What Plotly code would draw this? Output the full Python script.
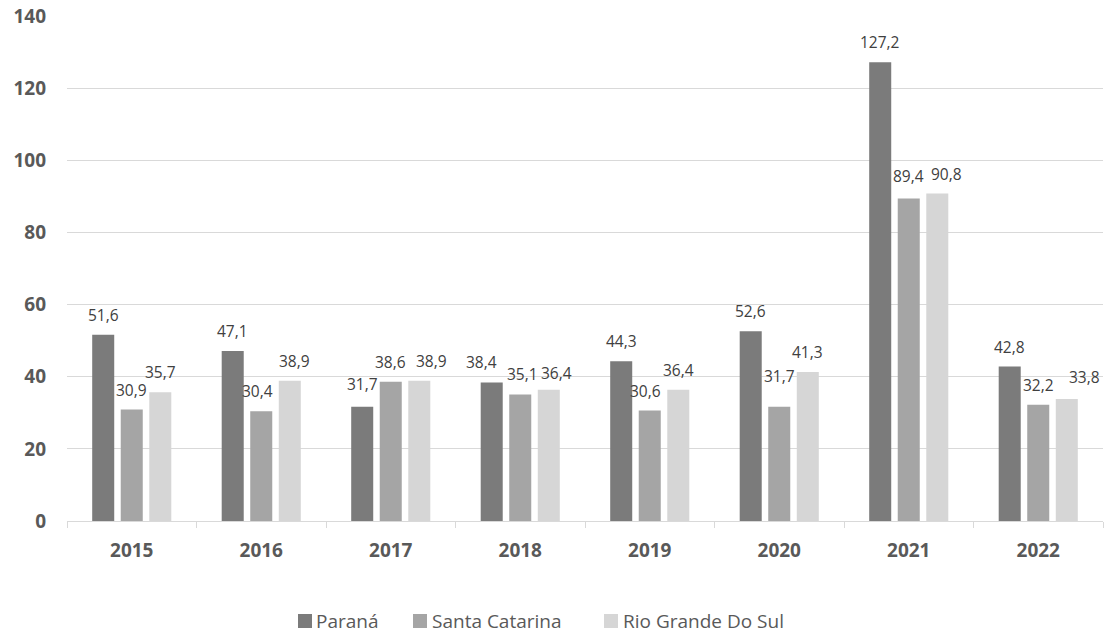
import plotly.graph_objects as go

# Values per state, 2015-2022
years = ["2015", "2016", "2017", "2018", "2019", "2020", "2021", "2022"]
parana = [51.6, 47.1, 31.7, 38.4, 44.3, 52.6, 127.2, 42.8]
santa_catarina = [30.9, 30.4, 38.6, 35.1, 30.6, 31.7, 89.4, 32.2]
rio_grande_do_sul = [35.7, 38.9, 38.9, 36.4, 36.4, 41.3, 90.8, 33.8]

series = [
    ("Paraná", parana, "#7b7b7b"),
    ("Santa Catarina", santa_catarina, "#a5a5a5"),
    ("Rio Grande Do Sul", rio_grande_do_sul, "#d6d6d6"),
]

FONT = "Open Sans"
W, H = 1105, 636
M_L, M_R, M_T, M_B = 67, 2, 16, 115
BARGAP, BARGROUPGAP = 0.339, 0.228
PLOT_W = W - M_L - M_R
PLOT_H = H - M_T - M_B

# small hand nudges (px) for value labels that would otherwise collide
label_nudge = {
    (1, "2016"): (-4, 0), (2, "2016"): (5, 0),
    (0, "2017"): (0, 3), (2, "2017"): (12, 0),
    (0, "2018"): (-10, 0), (1, "2018"): (2, 0), (2, "2018"): (8, -3),
    (1, "2019"): (-4, 0),
    (1, "2020"): (0, 11),
    (1, "2021"): (0, 3), (2, "2021"): (9, -1),
    (2, "2022"): (18, 2),
}

# legend entries laid out below the axis: (swatch left px, text left px)
legend_slots = [(298, 316), (413, 432), (604, 623)]
LEGEND_CY = 621
SWATCH = 14


def fmt(v):
    return f"{v:.1f}".replace(".", ",")


def px_x(px):
    return (px - M_L) / PLOT_W


def px_y(py):
    return (H - M_B - py) / PLOT_H


fig = go.Figure()
for name, vals, color in series:
    fig.add_trace(go.Bar(
        x=years, y=vals, name=name,
        marker=dict(color=color, line=dict(width=0)),
        hoverinfo="x+y+name",
    ))

cat_px = PLOT_W / len(years)
slot_px = (1 - BARGAP) * cat_px / len(series)

annotations = []
shapes = []
for i, (name, vals, color) in enumerate(series):
    for k, (yr, v) in enumerate(zip(years, vals)):
        dx, dy = label_nudge.get((i, yr), (0, 0))
        annotations.append(dict(
            x=k, y=v, xref="x", yref="y",
            text=fmt(v), showarrow=False,
            xshift=(i - 1) * slot_px + dx, yshift=20 + dy,
            yanchor="middle", xanchor="center",
            font=dict(family=FONT, size=15.5, color="#404040"),
        ))
    sw_left, txt_left = legend_slots[i]
    shapes.append(dict(
        type="rect", xref="paper", yref="paper",
        x0=px_x(sw_left), x1=px_x(sw_left + SWATCH),
        y0=px_y(LEGEND_CY + SWATCH / 2), y1=px_y(LEGEND_CY - SWATCH / 2),
        fillcolor=color, line=dict(width=0),
    ))
    annotations.append(dict(
        x=px_x(txt_left - 2), y=px_y(LEGEND_CY), xref="paper", yref="paper",
        text=name, showarrow=False, xanchor="left", yanchor="middle",
        font=dict(family=FONT, size=19, color="#595959"),
    ))

fig.update_layout(
    width=W, height=H,
    margin=dict(l=M_L, r=M_R, t=M_T, b=M_B, pad=0, autoexpand=False),
    paper_bgcolor="white", plot_bgcolor="white",
    barmode="group", bargap=BARGAP, bargroupgap=BARGROUPGAP,
    annotations=annotations, shapes=shapes,
    showlegend=False,
    font=dict(family=FONT),
)

fig.update_xaxes(
    type="category", range=[-0.5, len(years) - 0.5],
    showline=True, linecolor="#d9d9d9", linewidth=1,
    ticks="outside", tickson="boundaries", ticklen=6, tickcolor="#d9d9d9",
    showgrid=False, tickangle=0,
    tickfont=dict(family=FONT, size=19, color="#595959", weight="bold"),
    ticklabelstandoff=12,
)
fig.update_yaxes(
    range=[0, 140], dtick=20,
    showgrid=True, gridcolor="#d9d9d9", gridwidth=1,
    zeroline=False, showline=False,
    tickfont=dict(family=FONT, size=19, color="#595959", weight="bold"),
    ticklabelstandoff=20,
)

fig.write_html("out.html")
